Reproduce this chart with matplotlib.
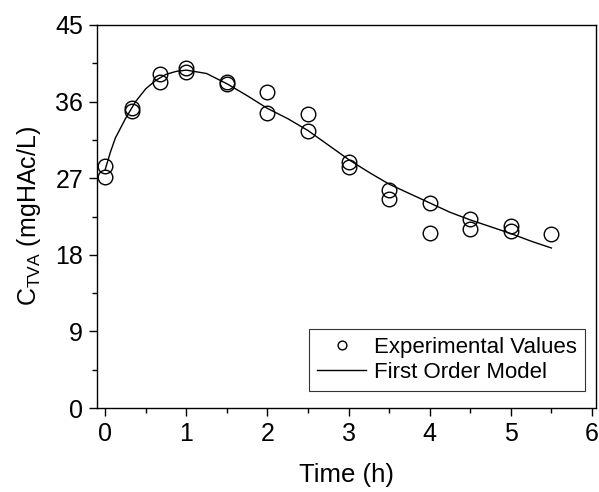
import numpy as np
import matplotlib.pyplot as plt
from matplotlib.ticker import MultipleLocator

plt.rcParams['font.family'] = ['Liberation Sans', 'DejaVu Sans']
plt.rcParams['mathtext.fontset'] = 'custom'
plt.rcParams['mathtext.rm'] = 'Liberation Sans'
plt.rcParams['mathtext.it'] = 'Liberation Sans'

# experimental values (two replicates, last time has one)
t_exp = [0, 0, 0.33, 0.33, 0.67, 0.67, 1, 1, 1.5, 1.5, 2, 2, 2.5, 2.5,
         3, 3, 3.5, 3.5, 4, 4, 4.5, 4.5, 5, 5, 5.5]
c_exp = [28.4, 27.2, 35.3, 34.9, 39.2, 38.3, 39.9, 39.5, 38.3, 38.1, 37.1, 34.7,
         34.6, 32.5, 28.9, 28.3, 25.6, 24.6, 24.1, 20.6, 22.2, 21.0, 21.4, 20.8, 20.4]

# first order model curve
t_mod = [0, 0.0625, 0.125, 0.25, 0.375, 0.5, 0.625, 0.75, 0.875, 1.0, 1.25, 1.5, 1.75,
         2.0, 2.25, 2.5, 2.75, 3.0, 3.25, 3.5, 3.75, 4.0, 4.25, 4.5, 4.75, 5.0, 5.25, 5.5]
c_mod = [28.0, 30.0, 31.7, 34.0, 36.0, 37.5, 38.5, 39.2, 39.55, 39.7, 39.3, 38.1, 36.7,
         35.2, 34.0, 32.6, 30.9, 29.2, 27.7, 26.3, 25.2, 24.1, 23.0, 22.1, 21.3, 20.5, 19.6, 18.8]

fig = plt.figure(figsize=(5.99, 4.92), dpi=100)
ax = fig.add_axes([0.162, 0.1707, 0.833, 0.7785])

ax.plot(t_exp, c_exp, 'o', mfc='none', mec='black', ms=10.5, mew=1.0,
        label='Experimental Values')
ax.plot(t_mod, c_mod, '-', color='black', lw=1.0, label='First Order Model')

ax.set_xlim(-0.1, 6.05)
ax.set_ylim(0, 45)
ax.xaxis.set_major_locator(MultipleLocator(1))
ax.xaxis.set_minor_locator(MultipleLocator(0.5))
ax.yaxis.set_major_locator(MultipleLocator(9))
ax.yaxis.set_minor_locator(MultipleLocator(4.5))
ax.tick_params(which='both', direction='out', top=False, right=False, labelsize=18)
ax.tick_params(which='major', length=6, width=1, pad=4)
ax.tick_params(which='minor', length=3.5, width=1)
for s in ax.spines.values():
    s.set_linewidth(1)

ax.set_xlabel('Time (h)', fontsize=18.5, labelpad=12)
ax.set_ylabel(r'C$_{\mathregular{TVA}}$ (mgHAc/L)', fontsize=18, labelpad=9)

leg = ax.legend(loc='lower right', bbox_to_anchor=(0.977, 0.045), fontsize=16,
                frameon=True, fancybox=False, edgecolor='black', markerscale=0.6,
                handlelength=2.2, borderpad=0.35, labelspacing=0.2, handletextpad=0.35,
                borderaxespad=0)
leg.get_frame().set_linewidth(0.8)

fig.savefig('out.png', dpi=100)
